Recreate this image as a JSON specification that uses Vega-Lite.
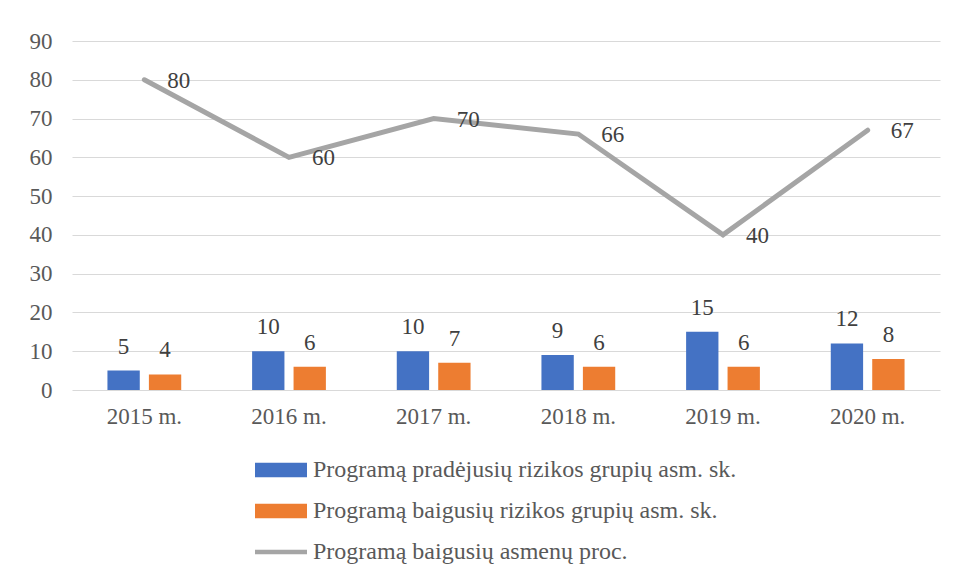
{
  "$schema": "https://vega.github.io/schema/vega-lite/v6.json",
  "width": 868,
  "height": 349,
  "autosize": {"type": "none"},
  "padding": {"left": 72, "top": 41, "right": 17, "bottom": 190},
  "background": "white",
  "config": {
    "font": "Liberation Serif",
    "view": {"stroke": null},
    "axis": {"labelFont": "Liberation Serif", "labelFontSize": 23, "labelColor": "#595959", "title": null, "domain": false, "ticks": false, "labelOverlap": false},
    "axisY": {"values": [0, 10, 20, 30, 40, 50, 60, 70, 80, 90], "grid": true, "gridColor": "#D9D9D9", "gridWidth": 1, "labelPadding": 20},
    "axisX": {"labelAngle": 0, "labelPadding": 15, "grid": false}
  },
  "datasets": {
    "bars": [
      {"year": "2015 m.", "series": "Programą pradėjusių rizikos grupių asm. sk.", "value": 5},
      {"year": "2015 m.", "series": "Programą baigusių rizikos grupių asm. sk.", "value": 4},
      {"year": "2016 m.", "series": "Programą pradėjusių rizikos grupių asm. sk.", "value": 10},
      {"year": "2016 m.", "series": "Programą baigusių rizikos grupių asm. sk.", "value": 6},
      {"year": "2017 m.", "series": "Programą pradėjusių rizikos grupių asm. sk.", "value": 10},
      {"year": "2017 m.", "series": "Programą baigusių rizikos grupių asm. sk.", "value": 7},
      {"year": "2018 m.", "series": "Programą pradėjusių rizikos grupių asm. sk.", "value": 9},
      {"year": "2018 m.", "series": "Programą baigusių rizikos grupių asm. sk.", "value": 6},
      {"year": "2019 m.", "series": "Programą pradėjusių rizikos grupių asm. sk.", "value": 15},
      {"year": "2019 m.", "series": "Programą baigusių rizikos grupių asm. sk.", "value": 6},
      {"year": "2020 m.", "series": "Programą pradėjusių rizikos grupių asm. sk.", "value": 12},
      {"year": "2020 m.", "series": "Programą baigusių rizikos grupių asm. sk.", "value": 8}
    ],
    "line": [
      {"year": "2015 m.", "pct": 80},
      {"year": "2016 m.", "pct": 60},
      {"year": "2017 m.", "pct": 70},
      {"year": "2018 m.", "pct": 66},
      {"year": "2019 m.", "pct": 40},
      {"year": "2020 m.", "pct": 67}
    ]
  },
  "layer": [
    {
      "data": {"name": "bars"},
      "mark": {"type": "bar"},
      "encoding": {
        "x": {"field": "year", "type": "nominal", "sort": null, "scale": {"paddingInner": 0.49, "paddingOuter": 0.245}},
        "xOffset": {"field": "series", "type": "nominal", "sort": ["Programą pradėjusių rizikos grupių asm. sk.", "Programą baigusių rizikos grupių asm. sk."], "scale": {"paddingInner": 0.22, "paddingOuter": 0}},
        "y": {"field": "value", "type": "quantitative", "scale": {"domain": [0, 90]}},
        "color": {
          "field": "series",
          "type": "nominal",
          "scale": {
            "domain": ["Programą pradėjusių rizikos grupių asm. sk.", "Programą baigusių rizikos grupių asm. sk.", "Programą baigusių asmenų proc."],
            "range": ["#4472C4", "#ED7D31", "#A5A5A5"]
          },
          "legend": {
            "orient": "none",
            "legendX": 197,
            "legendY": 417,
            "direction": "vertical",
            "title": null,
            "padding": 0,
            "labelFont": "Liberation Serif",
            "labelFontSize": 24,
            "labelColor": "#595959",
            "labelLimit": 700,
            "symbolType": "M-4,-1.1H4V1.1H-4Z",
            "symbolSize": 169,
            "symbolStrokeWidth": 0,
            "labelOffset": 20,
            "rowPadding": 17,
            "encode": {
              "symbols": {
                "update": {
                  "shape": {"signal": "datum.value === 'Programą baigusių asmenų proc.' ? 'M-4,-0.35H4V0.35H-4Z' : 'M-4,-1.1H4V1.1H-4Z'"}
                }
              }
            }
          }
        }
      }
    },
    {
      "data": {"name": "bars"},
      "mark": {"type": "text", "fontSize": 23, "color": "#404040", "baseline": "middle", "dy": -24},
      "encoding": {
        "x": {"field": "year", "type": "nominal", "sort": null},
        "xOffset": {"field": "series", "type": "nominal", "sort": ["Programą pradėjusių rizikos grupių asm. sk.", "Programą baigusių rizikos grupių asm. sk."]},
        "y": {"field": "value", "type": "quantitative"},
        "text": {"field": "value", "type": "quantitative"}
      }
    },
    {
      "data": {"name": "line"},
      "mark": {"type": "line", "color": "#A5A5A5", "strokeWidth": 5, "strokeCap": "round", "strokeJoin": "miter"},
      "encoding": {
        "x": {"field": "year", "type": "nominal", "sort": null},
        "y": {"field": "pct", "type": "quantitative"}
      }
    },
    {
      "data": {"name": "line"},
      "mark": {"type": "text", "fontSize": 23, "color": "#404040", "align": "left", "baseline": "middle", "dx": 23, "dy": 1},
      "encoding": {
        "x": {"field": "year", "type": "nominal", "sort": null},
        "y": {"field": "pct", "type": "quantitative"},
        "text": {"field": "pct", "type": "quantitative"}
      }
    }
  ]
}
